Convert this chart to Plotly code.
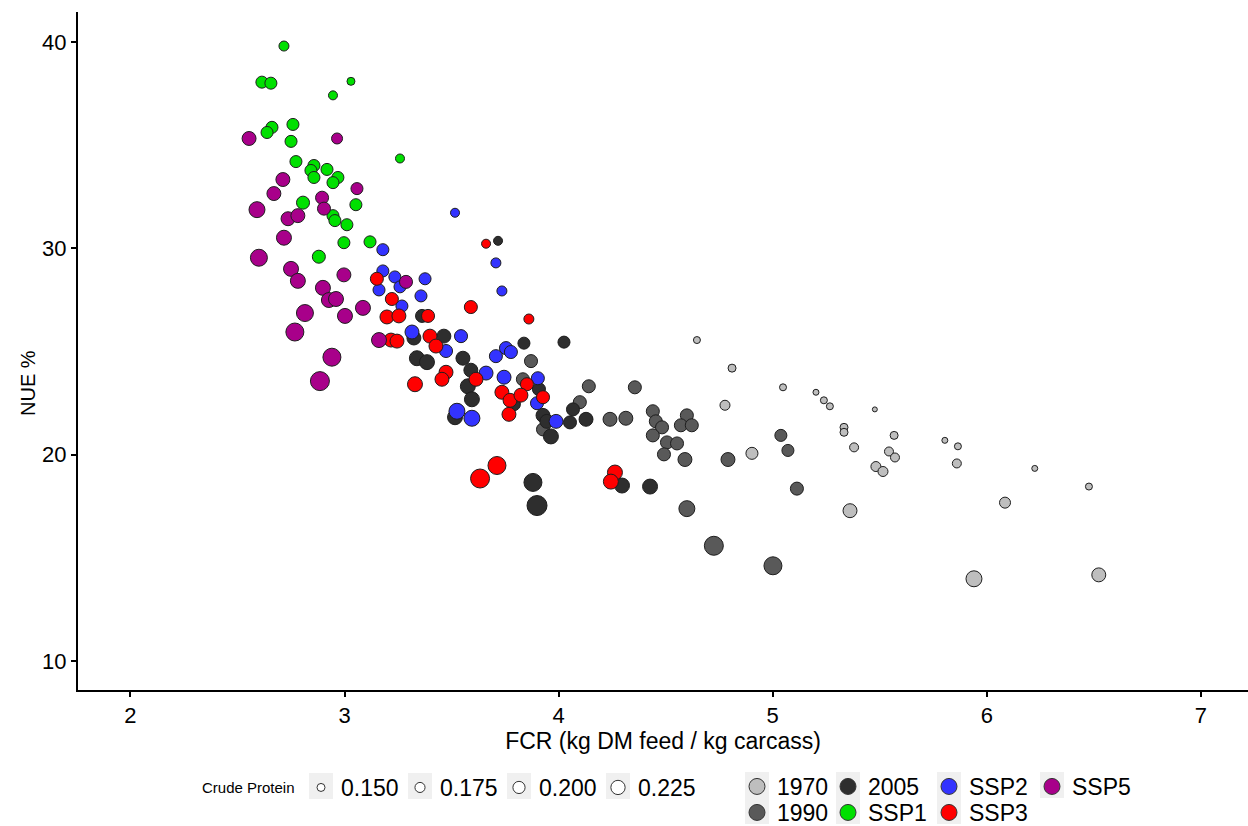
import plotly.graph_objects as go

# ---------------- data (FCR, NUE %, crude protein) ----------------
fcr_1970 = [4.646, 4.810, 4.777, 5.048, 5.202, 5.239, 5.267, 5.477, 5.333, 5.333, 5.380, 5.567, 5.543,
            5.571, 5.482, 5.515, 4.903, 5.361, 5.804, 5.865, 5.860, 6.224, 6.477, 6.085, 5.940, 6.523]
nue_1970 = [25.56, 24.20, 22.40, 23.27, 23.03, 22.64, 22.35, 22.20, 21.33, 21.09, 20.36, 20.94, 20.16,
            19.87, 19.43, 19.19, 20.07, 17.29, 20.70, 20.41, 19.58, 19.34, 18.46, 17.68, 13.99, 14.18]
cp_1970 = [0.138, 0.150, 0.174, 0.138, 0.126, 0.138, 0.138, 0.114, 0.150, 0.150, 0.162, 0.150, 0.162,
           0.162, 0.174, 0.174, 0.198, 0.221, 0.126, 0.138, 0.162, 0.126, 0.138, 0.186, 0.245, 0.221]

fcr_1990 = [3.871, 3.833, 3.927, 4.141, 4.099, 4.240, 4.314, 4.356, 4.440, 4.454, 4.483, 4.440, 4.506,
            4.553, 4.492, 4.590, 4.599, 4.571, 4.622, 4.791, 4.599, 4.725, 5.001, 5.038, 5.071, 5.113]
nue_1990 = [24.54, 23.66, 21.23, 23.32, 22.55, 21.72, 21.77, 23.27, 22.11, 21.62, 21.33, 20.94, 20.60,
            20.55, 20.02, 19.77, 21.91, 21.43, 21.43, 19.77, 17.39, 15.59, 14.62, 20.94, 20.21, 18.36]
cp_1990 = [0.210, 0.210, 0.210, 0.210, 0.210, 0.221, 0.221, 0.210, 0.210, 0.210, 0.210, 0.210, 0.210,
           0.210, 0.210, 0.221, 0.210, 0.210, 0.210, 0.221, 0.245, 0.281, 0.269, 0.198, 0.198, 0.210]

fcr_2005 = [3.717, 3.838, 4.025, 3.362, 3.324, 3.464, 3.338, 3.385, 3.553, 3.590, 3.576, 3.595, 3.516,
            3.927, 3.945, 3.964, 4.053, 4.067, 4.128, 3.908, 3.791, 3.880, 3.899, 4.296, 4.427]
nue_2005 = [30.37, 25.41, 25.46, 26.73, 25.66, 25.75, 24.68, 24.49, 24.68, 24.10, 23.32, 22.69, 21.82,
            21.91, 21.62, 20.89, 21.57, 22.20, 21.72, 23.18, 22.45, 18.66, 17.54, 18.51, 18.46]
cp_2005 = [0.162, 0.198, 0.198, 0.210, 0.221, 0.221, 0.233, 0.233, 0.221, 0.221, 0.233, 0.233, 0.233,
           0.221, 0.221, 0.233, 0.210, 0.210, 0.221, 0.210, 0.210, 0.269, 0.293, 0.233, 0.233]

fcr_ssp1 = [2.717, 2.614, 2.656, 3.030, 2.946, 2.759, 2.661, 2.638, 2.750, 3.259, 2.773, 2.857, 2.843,
            2.857, 2.918, 2.969, 2.946, 2.806, 3.053, 2.946, 2.955, 3.011, 2.997, 3.119, 2.880]
nue_ssp1 = [39.81, 38.06, 38.01, 38.10, 37.42, 36.01, 35.87, 35.62, 35.19, 34.36, 34.21, 34.02, 33.78,
            33.44, 33.83, 33.44, 33.19, 32.22, 32.12, 31.59, 31.35, 31.15, 30.28, 30.32, 29.60]
cp_ssp1 = [0.174, 0.198, 0.198, 0.150, 0.162, 0.198, 0.198, 0.198, 0.198, 0.162, 0.198, 0.198, 0.198,
           0.198, 0.198, 0.198, 0.198, 0.210, 0.198, 0.198, 0.198, 0.198, 0.198, 0.198, 0.210]

fcr_ssp2 = [3.516, 3.179, 3.179, 3.235, 3.161, 3.259, 3.376, 3.357, 3.268, 3.315, 3.474, 3.544, 3.707,
            3.735, 3.754, 3.777, 3.707, 3.661, 3.745, 3.903, 3.899, 3.525, 3.595, 3.988]
nue_ssp2 = [31.73, 29.94, 28.91, 28.62, 27.99, 28.14, 28.53, 27.70, 27.21, 25.95, 25.03, 25.75, 29.30,
            27.94, 25.17, 24.98, 24.78, 23.96, 23.76, 23.71, 22.50, 22.11, 21.77, 21.62]
cp_ssp2 = [0.162, 0.198, 0.198, 0.198, 0.198, 0.198, 0.198, 0.198, 0.198, 0.221, 0.210, 0.210, 0.174,
           0.174, 0.210, 0.210, 0.210, 0.221, 0.221, 0.210, 0.210, 0.245, 0.245, 0.221]

fcr_ssp3 = [3.661, 3.151, 3.221, 3.198, 3.254, 3.390, 3.590, 3.861, 3.217, 3.245, 3.399, 3.427, 3.474,
            3.455, 3.329, 3.614, 3.852, 3.735, 3.773, 3.824, 3.927, 3.768, 3.633, 3.712, 4.263, 4.244]
nue_ssp3 = [30.23, 28.53, 27.55, 26.68, 26.73, 26.73, 27.16, 26.58, 25.56, 25.51, 25.75, 25.27, 24.00,
            23.66, 23.42, 23.66, 23.42, 23.03, 22.64, 22.89, 22.79, 21.96, 18.85, 19.48, 19.14, 18.70]
cp_ssp3 = [0.162, 0.210, 0.210, 0.221, 0.221, 0.210, 0.210, 0.174, 0.221, 0.221, 0.221, 0.221, 0.221,
           0.221, 0.233, 0.221, 0.210, 0.221, 0.221, 0.221, 0.210, 0.221, 0.281, 0.269, 0.233, 0.233]

fcr_ssp5 = [2.554, 2.965, 2.712, 2.670, 3.058, 2.591, 2.895, 2.904, 2.736, 2.782, 2.717, 2.600, 2.750,
            2.782, 2.997, 2.899, 2.927, 2.960, 2.815, 3.002, 3.086, 2.768, 3.161, 3.287, 2.941, 2.885]
nue_ssp5 = [35.33, 35.33, 33.34, 32.66, 32.90, 31.88, 32.46, 31.93, 31.44, 31.59, 30.52, 29.55, 29.01,
            28.43, 28.72, 28.09, 27.50, 27.55, 26.87, 26.73, 27.12, 25.95, 25.56, 28.38, 24.73, 23.57]
cp_ssp5 = [0.221, 0.186, 0.221, 0.221, 0.198, 0.245, 0.210, 0.210, 0.221, 0.221, 0.233, 0.257, 0.233,
           0.233, 0.221, 0.233, 0.233, 0.233, 0.257, 0.233, 0.233, 0.269, 0.233, 0.210, 0.269, 0.281]

group_names = ["1970", "1990", "2005", "SSP1", "SSP2", "SSP3", "SSP5"]
group_colors = ["#BEBEBE", "#595959", "#2E2E2E", "#00E000", "#3333FF", "#FF0000", "#A8008A"]
size_legend_values = [0.150, 0.175, 0.200, 0.225]
size_legend_labels = ["0.150", "0.175", "0.200", "0.225"]

groups = [
    (fcr_1970, nue_1970, cp_1970),
    (fcr_1990, nue_1990, cp_1990),
    (fcr_2005, nue_2005, cp_2005),
    (fcr_ssp1, nue_ssp1, cp_ssp1),
    (fcr_ssp2, nue_ssp2, cp_ssp2),
    (fcr_ssp3, nue_ssp3, cp_ssp3),
    (fcr_ssp5, nue_ssp5, cp_ssp5),
]


def cp_to_px(cp):
    return 8 + (cp - 0.15) * 84


FONT = "Liberation Sans, Arial, sans-serif"
OUTLINE = dict(color="#1e1e1e", width=1)
KEY_BG = "#F0F0F0"

W, H = 1248, 826
ml, mt, mr, mb = 78, 12, 0, 136
pw, ph = W - ml - mr, H - mt - mb

fig = go.Figure()

for (xs, ys, cps), name, col in zip(groups, group_names, group_colors):
    fig.add_trace(go.Scatter(
        x=xs, y=ys, mode="markers", name=name, showlegend=False,
        marker=dict(size=[cp_to_px(c) for c in cps], color=col, line=OUTLINE, opacity=1),
    ))

LEG_FONT = 23
legends = {}
shapes = []


def add_key(lid, name, marker, sym_x, sym_y):
    """one legend entry placed so that its symbol is centred at (sym_x, sym_y) px"""
    fig.add_trace(go.Scatter(x=[None], y=[None], mode="markers", name=name, legend=lid,
                             marker=marker))
    legends[lid] = dict(font=dict(family=FONT, size=LEG_FONT, color="black"),
                        bgcolor="rgba(0,0,0,0)", itemsizing="trace", orientation="v",
                        xref="container", yref="container", xanchor="left", yanchor="top",
                        x=(sym_x - 20) / W, y=(H - (sym_y - 20)) / H, itemwidth=30)
    shapes.append(dict(type="rect", xref="paper", yref="paper", layer="below",
                       x0=(sym_x - 12 - ml) / pw, x1=(sym_x + 12 - ml) / pw,
                       y0=(H - mb - (sym_y + 13)) / ph, y1=(H - mb - (sym_y - 13)) / ph,
                       fillcolor=KEY_BG, line=dict(width=0)))


n = 1
# size legend (Crude Protein)
for i, (v, lab) in enumerate(zip(size_legend_values, size_legend_labels)):
    add_key("legend" if n == 1 else f"legend{n}", lab,
            dict(size=cp_to_px(v), color="white", line=dict(color="#333333", width=1)),
            321 + i * 99, 786)
    n += 1

# colour legend (column-major, 2 rows)
columns = [["1970", "1990"], ["2005", "SSP1"], ["SSP2", "SSP3"], ["SSP5"]]
col_x = [757, 848, 949, 1052]
row_y = [785, 811]
for cx, names in zip(col_x, columns):
    for r, nm in enumerate(names):
        c = group_colors[group_names.index(nm)]
        add_key(f"legend{n}", nm, dict(size=16, color=c, line=dict(color="#333333", width=1)),
                cx, row_y[r])
        n += 1

fig.update_layout(
    width=W, height=H,
    margin=dict(l=ml, r=mr, t=mt, b=mb, autoexpand=False),
    paper_bgcolor="white", plot_bgcolor="white",
    font=dict(family=FONT, color="black"),
    showlegend=True,
    shapes=shapes,
    annotations=[
        dict(text="Crude Protein", xref="paper", yref="paper",
             x=(200 - ml) / pw, y=(H - mb - 787) / ph, xanchor="left", yanchor="middle",
             showarrow=False, font=dict(family=FONT, size=15, color="black")),
        dict(text="NUE %", xref="paper", yref="paper", textangle=-90,
             x=(28 - ml) / pw, y=(H - mb - 383) / ph, xanchor="center", yanchor="middle",
             showarrow=False, font=dict(family=FONT, size=20, color="black")),
    ],
    xaxis=dict(range=[1.755, 7.22], tickvals=[2, 3, 4, 5, 6, 7], ticks="outside", ticklen=5,
               tickwidth=1.5, tickcolor="black", showline=True, linecolor="black", linewidth=2,
               showgrid=False, zeroline=False, tickfont=dict(size=22, color="black"),
               title=dict(text="FCR (kg DM feed / kg carcass)", font=dict(size=23, color="black"),
                          standoff=3)),
    yaxis=dict(range=[8.6, 41.46], tickvals=[10, 20, 30, 40], ticks="outside", ticklen=5,
               tickwidth=1.5, tickcolor="black", showline=True, linecolor="black", linewidth=2,
               showgrid=False, zeroline=False, tickfont=dict(size=22, color="black")),
    **legends,
)

fig.write_html("out.html")
